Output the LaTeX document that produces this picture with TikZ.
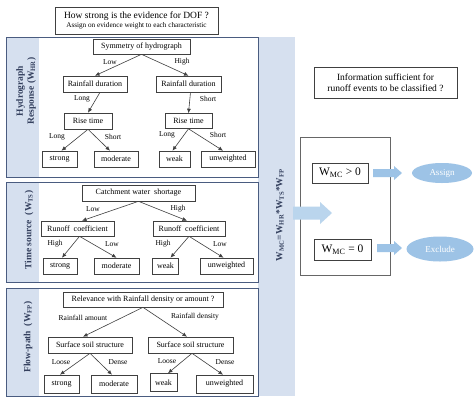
\documentclass[tikz,border=0pt]{standalone}
\usepackage{fontspec}
\setmainfont{Liberation Serif}
\usetikzlibrary{arrows.meta,shapes.geometric}
\definecolor{stripblue}{HTML}{D6E0EF}
\definecolor{framecol}{HTML}{4A5C80}
\definecolor{lightarrow}{HTML}{9DC3E6}
\definecolor{labcol}{HTML}{34405E}
\begin{document}
\begin{tikzpicture}[x=1pt,y=-1pt,
  box/.style={draw=black!75, line width=0.6pt, fill=white, inner sep=0pt, align=center, font=\fontsize{8}{9.5}\selectfont},
  edgelab/.style={inner sep=0pt, font=\fontsize{7.5}{8.5}\selectfont},
  arr/.style={draw=black!75, line width=0.6pt, -{Latex[length=4.5pt,width=4pt]}},
  panel/.style={draw=framecol, line width=1pt},
  plabel/.style={rotate=90, align=center, text=labcol, font=\bfseries\fontsize{9.5}{11}\selectfont},
  ell/.style={ellipse, fill=lightarrow, text=white, inner sep=0pt, font=\fontsize{9}{10}\selectfont}
]
\useasboundingbox (0,0) rectangle (474,400);
\fill[white] (0,0) rectangle (474,400);

% title
\node[box, minimum width=163pt, minimum height=27pt] (title) at (136.5,20.5)
  {{\fontsize{9.5}{11}\selectfont How strong is the evidence for DOF ?}\\[-1pt]{\fontsize{7.2}{8.5}\selectfont Assign on evidence weight to each characteristic}};

% right strip
\fill[stripblue] (258,37) rectangle (295,396);
\node[rotate=90, inner sep=0pt, text=labcol, font=\bfseries\fontsize{9.5}{11}\selectfont] (formula) at (280,215)
  {W\textsubscript{MC}=W\textsubscript{HR}*W\textsubscript{TS}*W\textsubscript{FP}};

% ---------- panel 1
\fill[stripblue] (6,37) rectangle (39,177);
\draw[panel] (6,37) rectangle (258,177);
\node[plabel] (lab1) at (26,91) {Hydrograph\\Response (W\textsubscript{HR})};

\node[box, minimum width=97pt, minimum height=15pt] (sym) at (141.5,46.5) {Symmetry of hydrograph};
\node[box, minimum width=64pt, minimum height=16pt] (rd1) at (95,84) {Rainfall duration};
\node[box, minimum width=65pt, minimum height=16pt] (rd2) at (188.5,84) {Rainfall duration};
\node[box, minimum width=48pt, minimum height=16pt] (rt1) at (88,121) {Rise time};
\node[box, minimum width=47pt, minimum height=15pt] (rt2) at (188.5,121) {Rise time};
\node[box, minimum width=35pt, minimum height=16pt] (s1) at (59.5,159) {strong};
\node[box, minimum width=44pt, minimum height=16pt] (m1) at (116,159) {moderate};
\node[box, minimum width=31pt, minimum height=16pt] (w1) at (174.5,159) {weak};
\node[box, minimum width=54pt, minimum height=16pt] (u1) at (228,159) {unweighted};

\draw[arr] (sym.south) -- (rd1.north);
\draw[arr] (sym.south) -- (rd2.north);
\draw[arr] ([xshift=5pt]rd1.south) -- (rt1.north);
\draw[arr] ([xshift=2pt]rd2.south) -- (rt2.north);
\draw[arr] (rt1.south) -- ([xshift=2pt]s1.north);
\draw[arr] (rt1.south) -- ([xshift=-6pt]m1.north);
\draw[arr] (rt2.south) -- ([xshift=-2pt]w1.north);
\draw[arr] (rt2.south) -- ([xshift=-5pt]u1.north);

\node[edgelab] (e1) at (110,62) {Low};
\node[edgelab] (e2) at (182,62) {High};
\node[edgelab] (e3) at (82,99) {Long};
\node[edgelab] (e4) at (208,99) {Short};
\node[edgelab] (e5) at (57,137) {Long};
\node[edgelab] (e6) at (113,137) {Short};
\node[edgelab] (e7) at (167,135) {Long};
\node[edgelab] (e8) at (218,135) {Short};

% ---------- panel 2
\fill[stripblue] (6,182) rectangle (39,282);
\draw[panel] (6,182) rectangle (258,282);
\node[plabel] (lab2) at (29,230) {Time source\ \ (W\textsubscript{TS})};

\node[box, minimum width=113pt, minimum height=16pt] (cws) at (138.5,193) {Catchment water\ \ shortage};
\node[box, minimum width=73pt, minimum height=15pt] (rc1) at (77.5,228.5) {Runoff\ \ coefficient};
\node[box, minimum width=72pt, minimum height=15pt] (rc2) at (189,228.5) {Runoff\ \ coefficient};
\node[box, minimum width=34pt, minimum height=16pt] (s2) at (60,266) {strong};
\node[box, minimum width=45pt, minimum height=16pt] (m2) at (116.5,266) {moderate};
\node[box, minimum width=26pt, minimum height=16pt] (w2) at (165.5,266) {weak};
\node[box, minimum width=53pt, minimum height=16pt] (u2) at (226.5,266) {unweighted};

\draw[arr] (cws.south) -- ([xshift=4.5pt]rc1.north);
\draw[arr] (cws.south) -- ([xshift=-2pt]rc2.north);
\draw[arr] ([xshift=2pt]rc1.south) -- ([xshift=2pt]s2.north);
\draw[arr] ([xshift=2pt]rc1.south) -- (m2.north);
\draw[arr] (rc2.south) -- ([xshift=5pt]w2.north);
\draw[arr] (rc2.south) -- ([xshift=-3pt]u2.north);

\node[edgelab] (f1) at (93,209) {Low};
\node[edgelab] (f2) at (178,209) {High};
\node[edgelab] (f3) at (55,244) {High};
\node[edgelab] (f4) at (112,244) {Low};
\node[edgelab] (f5) at (163,244) {High};
\node[edgelab] (f6) at (220,244) {Low};

% ---------- panel 3
\fill[stripblue] (6,288) rectangle (39,396);
\draw[panel] (6,288) rectangle (258,396);
\node[plabel] (lab3) at (28,337) {Flow-path\ \ (W\textsubscript{FP})};

\node[box, minimum width=160pt, minimum height=15pt] (rel) at (143,299.5) {Relevance with Rainfall density or amount ?};
\node[box, minimum width=84pt, minimum height=16pt] (ss1) at (90,345) {Surface soil structure};
\node[box, minimum width=85pt, minimum height=16pt] (ss2) at (190.5,345) {Surface soil structure};
\node[box, minimum width=35pt, minimum height=18pt] (s3) at (61.5,384) {strong};
\node[box, minimum width=46pt, minimum height=18pt] (m3) at (114,384) {moderate};
\node[box, minimum width=27pt, minimum height=18pt] (w3) at (163.5,382.5) {weak};
\node[box, minimum width=57pt, minimum height=18pt] (u3) at (224.5,384) {unweighted};

\draw[arr] (rel.south) -- ([xshift=-7pt]ss1.north);
\draw[arr] (rel.south) -- ([xshift=-3.5pt]ss2.north);
\draw[arr] (ss1.south) -- ([xshift=-1.5pt]s3.north);
\draw[arr] (ss1.south) -- ([xshift=-2pt]m3.north);
\draw[arr] ([xshift=1.5pt]ss2.south) -- ([xshift=4.5pt]w3.north);
\draw[arr] ([xshift=1.5pt]ss2.south) -- ([xshift=-1.5pt]u3.north);

\node[edgelab] (g1) at (83,318) {Rainfall amount};
\node[edgelab] (g2) at (195,317) {Rainfall density};
\node[edgelab] (g3) at (61,362) {Loose};
\node[edgelab] (g4) at (118,362) {Dense};
\node[edgelab] (g5) at (167,361) {Loose};
\node[edgelab] (g6) at (225,362) {Dense};

% ---------- right part
\node[box, minimum width=143pt, minimum height=31pt, font=\fontsize{9.5}{11}\selectfont] (info) at (385.5,82.5)
  {Information sufficient for\\runoff events to be classified ?};
\draw[draw=black!60, line width=0.6pt] (300,137) rectangle (390,275);
\node[box, minimum width=56pt, minimum height=20pt, font=\fontsize{11.5}{13}\selectfont] (wg) at (340,173) {W\textsubscript{MC} > 0};
\node[box, minimum width=57pt, minimum height=21pt, font=\fontsize{11.5}{13}\selectfont] (we) at (342.5,249.5) {W\textsubscript{MC} = 0};

\node[ell, minimum width=60pt, minimum height=20pt] (assign) at (442,173) {Assign};
\node[ell, minimum width=67pt, minimum height=25pt] (exclude) at (440,249) {Exclude};

% block arrows
\fill[lightarrow!70] (293,206.5) -- (320,206.5) -- (320,202) -- (332,213) -- (320,224) -- (320,219.5) -- (293,219.5) -- cycle;
\fill[lightarrow] (373,169) -- (394,169) -- (394,166) -- (402,173) -- (394,180) -- (394,177) -- (373,177) -- cycle;
\fill[lightarrow] (377,244) -- (394,244) -- (394,241) -- (402,248) -- (394,255) -- (394,252) -- (377,252) -- cycle;
\end{tikzpicture}
\end{document}
